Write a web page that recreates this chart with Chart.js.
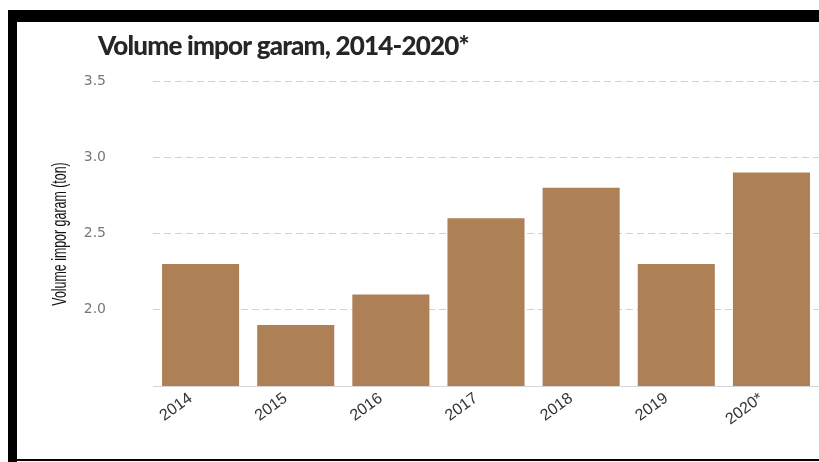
<!DOCTYPE html>
<html>
<head>
<meta charset="utf-8">
<script src="https://cdn.jsdelivr.net/npm/chart.js@4/dist/chart.umd.min.js"></script>
<style>
  html, body { margin: 0; padding: 0; background: #fff; }
  #wrap { position: relative; width: 819px; height: 462px; overflow: hidden; }
  canvas { position: absolute; left: 0; top: 0; }
  .frame { position: absolute; background: #000; }
</style>
</head>
<body>
<div id="wrap">
  <canvas id="c" width="819" height="462"></canvas>
  <div class="frame" style="left:8px;top:10px;width:811px;height:12px;"></div>
  <div class="frame" style="left:8px;top:10px;width:9px;height:452px;"></div>
  <div class="frame" style="left:8px;top:459px;width:811px;height:2px;"></div>
</div>
<script>
const titleText = "Volume impor garam, 2014-2020*";
const yAxisTitle = "Volume impor garam (ton)";
const years = ["2014", "2015", "2016", "2017", "2018", "2019", "2020*"];
const importVolume = [2.3, 1.9, 2.1, 2.6, 2.8, 2.3, 2.9];
const yTicks = [1.5, 2.0, 2.5, 3.0, 3.5];

const customTexts = {
  id: 'customTexts',
  afterDraw(chart) {
    const ctx = chart.ctx;
    // chart title
    ctx.save();
    ctx.font = "900 26px Lato, 'DejaVu Sans', sans-serif";
    try { ctx.letterSpacing = '-0.8px'; } catch (e) {}
    ctx.fillStyle = '#262626';
    ctx.textAlign = 'left';
    ctx.textBaseline = 'alphabetic';
    ctx.fillText(titleText, 98, 55);
    ctx.restore();
    // condensed y-axis title
    ctx.save();
    ctx.translate(60, 234);
    ctx.rotate(-Math.PI / 2);
    ctx.scale(0.62, 1);
    ctx.font = "20px 'Liberation Sans', Arial, sans-serif";
    ctx.fillStyle = '#111';
    ctx.textAlign = 'center';
    ctx.textBaseline = 'middle';
    ctx.fillText(yAxisTitle, 0, 0);
    ctx.restore();
  }
};

new Chart(document.getElementById('c'), {
  type: 'bar',
  data: {
    labels: years,
    datasets: [{
      data: importVolume,
      backgroundColor: '#ad8056',
      borderWidth: 0,
      barPercentage: 0.81,
      categoryPercentage: 1.0
    }]
  },
  options: {
    responsive: false,
    animation: false,
    layout: { padding: { left: 50, top: 81, right: 0, bottom: 0 } },
    plugins: { legend: { display: false }, title: { display: false }, tooltip: { enabled: false } },
    scales: {
      x: {
        grid: { display: false },
        border: { display: true, color: '#d6d6d6', width: 1 },
        ticks: {
          color: '#333',
          font: { family: "'Liberation Sans', Arial, sans-serif", size: 16 },
          maxRotation: 36, minRotation: 36,
          padding: -5,
          labelOffset: -10
        },
        afterFit(scale) { scale.height = 76; }
      },
      y: {
        min: 1.5, max: 3.5,
        afterBuildTicks(scale) { scale.ticks = yTicks.map(v => ({ value: v })); },
        grid: { color: '#d0d0d0', lineWidth: 1, drawTicks: false },
        border: { display: false, dash: [7, 4] },
        ticks: {
          color: '#777',
          font: { family: "'DejaVu Sans', sans-serif", size: 14 },
          padding: 47,
          callback: (v) => v === 1.5 ? '' : Number(v).toFixed(1)
        },
        afterFit(scale) { scale.width = 103; }
      }
    }
  },
  plugins: [customTexts]
});
</script>
</body>
</html>
